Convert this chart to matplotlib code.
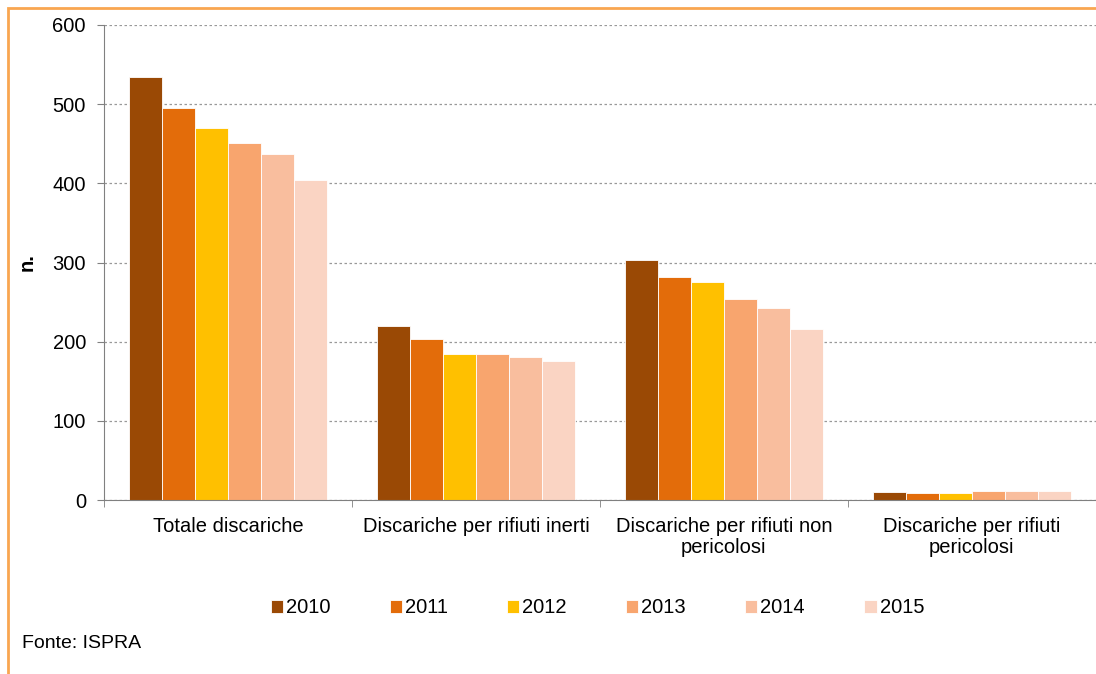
import numpy as np
import matplotlib.pyplot as plt
from matplotlib.patches import Rectangle

plt.rcParams['font.family'] = ['Liberation Sans', 'DejaVu Sans']

categories = ["Totale discariche", "Discariche per rifiuti inerti",
              "Discariche per rifiuti non\npericolosi", "Discariche per rifiuti\npericolosi"]
years = ["2010", "2011", "2012", "2013", "2014", "2015"]
v2010 = [534, 220, 303, 10]
v2011 = [495, 203, 282, 8.5]
v2012 = [470, 184, 275, 9]
v2013 = [451, 185, 254, 11]
v2014 = [437, 181, 242, 12]
v2015 = [404, 176, 216, 11]
series = [v2010, v2011, v2012, v2013, v2014, v2015]
colors = ["#9A4905", "#E36C0A", "#FFC000", "#F8A56E", "#F9BE9E", "#FAD4C3"]

fig = plt.figure(figsize=(10.96, 6.74), dpi=100)
ax = fig.add_axes([0.0949, 0.258, 0.905, 0.705])

x = np.arange(len(categories))
w = 0.8 / len(series)
for i, (vals, c, yr) in enumerate(zip(series, colors, years)):
    ax.bar(x - 0.4 + w * (i + 0.5), vals, width=w, color=c, label=yr,
           edgecolor="white", linewidth=0.6)

ax.set_xlim(-0.5, len(categories) - 0.5)
ax.set_ylim(0, 600)
ax.set_yticks(range(0, 601, 100))
ax.yaxis.grid(True, linestyle=(0, (2, 2)), color="#999999", linewidth=0.9)
ax.set_axisbelow(True)

ax.set_xticks(x)
ax.set_xticklabels(categories, fontsize=14.5, linespacing=1.15)
ax.set_xticks(np.arange(-0.5, len(categories) - 0.5, 1), minor=True)
ax.tick_params(axis="x", which="major", length=0, pad=12)
ax.tick_params(axis="x", which="minor", length=5, color="#808080")
ax.tick_params(axis="y", length=5, color="#808080", labelsize=14.5, pad=8)

for s in ["top", "right"]:
    ax.spines[s].set_visible(False)
for s in ["left", "bottom"]:
    ax.spines[s].set_color("#808080")

ax.set_ylabel("n.", fontsize=14.5, fontweight="bold")
ax.yaxis.set_label_coords(-0.068, 0.5)

fig.legend(loc="center", bbox_to_anchor=(0.545, 0.098), ncol=6, frameon=False,
           fontsize=14.5, handlelength=0.6, handleheight=0.6, handletextpad=0.15,
           columnspacing=2.95)

fig.text(0.02, 0.045, "Fonte: ISPRA", fontsize=14, va="center")

fig.patches.append(Rectangle((8 / 1096, -0.05), 1.1, 1 - 8 / 674 + 0.05,
                             transform=fig.transFigure, fill=False,
                             edgecolor="#F9A650", linewidth=2))

fig.savefig("out.png", dpi=100)
